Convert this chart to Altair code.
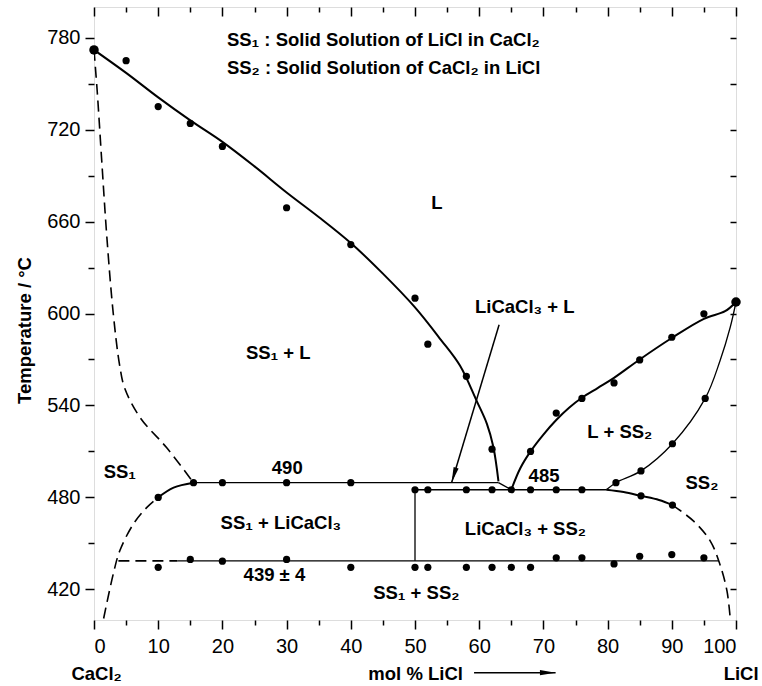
import math
import altair as alt
import pandas as pd

X_DOMAIN = [0, 100]
Y_DOMAIN = [400, 800]
PLOT_W, PLOT_H = 642, 613
FONT = "Liberation Sans"

x_major = list(range(0, 101, 10))
x_minor = list(range(5, 100, 10))
y_major = [420, 480, 540, 600, 660, 720, 780]
y_minor = [450, 510, 570, 630, 690, 750]

# ---- phase boundary curves (mol % LiCl, temperature) ----
liquidus_left = [(0, 772), (5, 757), (10, 741), (15, 726), (20, 712), (25, 696), (30, 679),
                 (35, 663), (40, 646), (45, 626), (50, 604), (54, 583), (57, 566),
                 (59.6, 543), (61.2, 528), (62.2, 513), (63, 490.5)]
liquidus_right = [(65, 485), (66.4, 499), (68, 510), (70, 521), (72, 530.5), (74, 538.5),
                  (76, 545), (78.5, 551.5), (81, 558), (85, 570), (90, 584), (95, 596.5),
                  (98.3, 601.5), (100, 607.5)]
solvus_left_solid = [(10, 480), (12.4, 486.4), (15.5, 489.6)]
solvus_right_solid = [(79.8, 485), (82.5, 483.5), (85.2, 481), (88, 478.3), (90.1, 475)]
peritectic = [(63, 489.6), (65, 485)]
solidus_right = [(79.8, 485), (81.3, 489.6), (85.2, 497.3), (90.1, 515), (95.2, 544.6),
                 (97.5, 569), (99.1, 591), (100, 607.5)]
iso_490 = [(15.5, 489.6), (63, 489.6)]
iso_485 = [(50, 485), (79.8, 485)]
iso_439 = [(13, 438.6), (97.3, 438.6)]
tie_50 = [(50, 485), (50, 438.6)]
solidus_left_dashed = [(0, 772), (0.5, 745), (1.2, 700), (2, 650), (3, 600), (4, 566),
                       (4.8, 551), (7.2, 532), (11.3, 512.5), (15.5, 489.6)]
solvus_left_dashed = [(1.5, 401), (3, 430), (4, 445), (6.1, 462.4), (8.2, 473.3), (10, 480)]
solvus_right_dashed = [(90.1, 475), (93.4, 464.5), (96, 451.5), (97.5, 436.2),
                       (98.6, 418.8), (99.1, 401)]
iso_439_dashed = [(3.8, 438.6), (13, 438.6)]

# ---- measured points ----
pts_liquidus_left = [(5, 765), (10, 735), (15, 724), (20, 709), (30, 669), (40, 645),
                     (50, 610), (52, 580), (58, 559), (62, 511.5)]
pts_liquidus_right = [(68, 510), (72, 535), (76, 544.6), (81, 554.7), (85, 569.7),
                      (90, 584.5), (95, 599.8)]
pts_solidus = [(81.3, 489.6), (85.2, 497.3), (90.1, 515), (95.2, 544.6)]
pts_solvus = [(85.2, 481), (90.1, 475)]
pts_490 = [(10, 480), (15.5, 489.6), (20, 489.6), (30, 489.6), (40, 489.6)]
pts_485 = [(50, 485), (52, 485), (58, 485), (62, 485), (65, 485), (68, 485), (72, 485), (76, 485)]
pts_439 = [(10, 434.4), (15, 439.5), (20, 438.4), (30, 439.5), (40, 434.4), (50, 434.4),
           (52, 434.4), (58, 434.4), (62, 434.4), (65, 434.4), (68, 434.4), (72, 440.6),
           (76, 440.6), (81, 436.6), (85, 441.6), (90, 442.7), (95, 440.6)]
pts_melting = [(0, 772), (100, 607.5)]

# ---- labels ----
region_labels = [
    ("L", 53.4, 672, "center"),
    ("LiCaCl₃ + L", 67.1, 604, "center"),
    ("SS₁ + L", 28.7, 574, "center"),
    ("L + SS₂", 81.9, 523, "center"),
    ("SS₁", 1.5, 496.5, "left"),
    ("490", 30.1, 499.5, "center"),
    ("485", 70.1, 494, "center"),
    ("SS₂", 94.7, 489.6, "center"),
    ("SS₁ + LiCaCl₃", 29.1, 463.4, "center"),
    ("LiCaCl₃ + SS₂", 67.2, 459.1, "center"),
    ("439 ± 4", 28.1, 429.2, "center"),
    ("SS₁ + SS₂", 50.2, 417.6, "center"),
]
header_labels = [
    ("SS₁ : Solid Solution of LiCl in CaCl₂", 20.7, 778.5),
    ("SS₂ : Solid Solution of CaCl₂ in LiCl", 20.7, 760.2),
]
bottom_labels = [("CaCl₂", 0.4, 360.9), ("mol % LiCl", 50.1, 360.9), ("LiCl", 100.8, 360.9)]
arrow_lines = [((63.1, 592.7), (55.7, 489.6)), ((59.2, 365.6), (71.9, 365.6))]

xs = alt.Scale(domain=X_DOMAIN, nice=False, zero=False)
ys = alt.Scale(domain=Y_DOMAIN, nice=False, zero=False)


def curves_df(curves):
    rows = []
    for name, pts in curves:
        for i, (x, y) in enumerate(pts):
            rows.append({"curve": name, "i": i, "x": x, "y": y})
    return pd.DataFrame(rows)


def pts_df(pts):
    return pd.DataFrame({"x": [p[0] for p in pts], "y": [p[1] for p in pts]})


def line_layer(curves, width, dash=None, interp="catmull-rom"):
    kw = dict(color="black", strokeWidth=width, interpolate=interp, clip=True)
    if dash:
        kw["strokeDash"] = dash
    return alt.Chart(curves_df(curves)).mark_line(**kw).encode(
        x=alt.X("x:Q", scale=xs, axis=None),
        y=alt.Y("y:Q", scale=ys, axis=None),
        detail="curve:N",
        order="i:Q",
    )


thick = line_layer([("ll", liquidus_left), ("lr", liquidus_right),
                    ("sls", solvus_left_solid), ("srs", solvus_right_solid)], 2.0)
thin = line_layer([("per", peritectic), ("sol", solidus_right), ("i490", iso_490),
                   ("i485", iso_485), ("i439", iso_439), ("t50", tie_50)], 1.3)
dashed = line_layer([("sld", solidus_left_dashed), ("svl", solvus_left_dashed),
                     ("svr", solvus_right_dashed), ("i439d", iso_439_dashed)], 1.6, dash=[11, 6])

all_pts = (pts_liquidus_left + pts_liquidus_right + pts_solidus + pts_solvus +
           pts_490 + pts_485 + pts_439)
points = alt.Chart(pts_df(all_pts)).mark_circle(color="black", opacity=1, size=52).encode(
    x=alt.X("x:Q", scale=xs, axis=None), y=alt.Y("y:Q", scale=ys, axis=None))
points_big = alt.Chart(pts_df(pts_melting)).mark_circle(color="black", opacity=1, size=90).encode(
    x=alt.X("x:Q", scale=xs, axis=None), y=alt.Y("y:Q", scale=ys, axis=None))

lab_df = pd.DataFrame(region_labels, columns=["text", "x", "y", "anchor"])
labels_c = alt.Chart(lab_df[lab_df["anchor"] == "center"]).mark_text(
    font=FONT, fontSize=18.5, fontWeight="bold", color="black", align="center", baseline="middle"
).encode(x=alt.X("x:Q", scale=xs, axis=None), y=alt.Y("y:Q", scale=ys, axis=None), text="text:N")
labels_l = alt.Chart(lab_df[lab_df["anchor"] == "left"]).mark_text(
    font=FONT, fontSize=18.5, fontWeight="bold", color="black", align="left", baseline="middle"
).encode(x=alt.X("x:Q", scale=xs, axis=None), y=alt.Y("y:Q", scale=ys, axis=None), text="text:N")
header = alt.Chart(pd.DataFrame(header_labels, columns=["text", "x", "y"])).mark_text(
    font=FONT, fontSize=18.5, fontWeight="bold", color="black", align="left", baseline="middle"
).encode(x=alt.X("x:Q", scale=xs, axis=None), y=alt.Y("y:Q", scale=ys, axis=None), text="text:N")
bottom = alt.Chart(pd.DataFrame(bottom_labels, columns=["text", "x", "y"])).mark_text(
    font=FONT, fontSize=18.5, fontWeight="bold", color="black", align="center",
    baseline="alphabetic"
).encode(x=alt.X("x:Q", scale=xs, axis=None), y=alt.Y("y:Q", scale=ys, axis=None), text="text:N")

# arrows
arr_rows, head_rows = [], []
for (x1, y1), (x2, y2) in arrow_lines:
    arr_rows.append({"x": x1, "y": y1, "x2": x2, "y2": y2})
    dx = (x2 - x1) * PLOT_W / (X_DOMAIN[1] - X_DOMAIN[0])
    dy = -(y2 - y1) * PLOT_H / (Y_DOMAIN[1] - Y_DOMAIN[0])
    ang = math.degrees(math.atan2(dx, -dy)) % 360
    head_rows.append({"x": x2, "y": y2, "angle": ang})
arrow_rules = alt.Chart(pd.DataFrame(arr_rows)).mark_rule(color="black", strokeWidth=1.5).encode(
    x=alt.X("x:Q", scale=xs, axis=None), y=alt.Y("y:Q", scale=ys, axis=None),
    x2="x2:Q", y2="y2:Q")
arrow_heads = alt.Chart(pd.DataFrame(head_rows)).mark_point(
    shape="M0,0 L0.4,2.4 L-0.4,2.4 Z", filled=True, color="black", opacity=1, size=170
).encode(x=alt.X("x:Q", scale=xs, axis=None), y=alt.Y("y:Q", scale=ys, axis=None),
         angle=alt.Angle("angle:Q", scale=None))

# axes (major/minor ticks, inward on top/right)
dummy = pd.DataFrame({"x": [0], "y": [400]})
common = dict(grid=False, domain=False, tickColor="black", tickWidth=1.5, title=None)


def axis_layer(xaxis, yaxis):
    return alt.Chart(dummy).mark_point(opacity=0).encode(
        x=alt.X("x:Q", scale=xs, axis=xaxis), y=alt.Y("y:Q", scale=ys, axis=yaxis))


ax_layers = [
    axis_layer(alt.Axis(orient="bottom", values=x_major, tickSize=9, labelPadding=7,
                        labelFont=FONT, labelFontSize=20, labelColor="black", **common),
               alt.Axis(orient="left", values=y_major, tickSize=9, labelPadding=5,
                        labelFont=FONT, labelFontSize=20, labelColor="black",
                        grid=False, domain=False, tickColor="black", tickWidth=1.5,
                        title="Temperature / °C", titleFont=FONT, titleFontSize=18.5,
                        titleFontWeight="bold", titleColor="black", titlePadding=12,
                        titleY=323)),
    axis_layer(alt.Axis(orient="bottom", values=x_minor, tickSize=5, labels=False, **common),
               alt.Axis(orient="left", values=y_minor, tickSize=6, labels=False, **common)),
    axis_layer(alt.Axis(orient="top", values=x_major, tickSize=9, offset=-9, labels=False, **common),
               alt.Axis(orient="right", values=y_major, tickSize=6, offset=-6, labels=False, **common)),
    axis_layer(alt.Axis(orient="top", values=x_minor, tickSize=5, offset=-5, labels=False, **common),
               alt.Axis(orient="right", values=y_minor, tickSize=6, offset=-6, labels=False, **common)),
]

chart = alt.layer(
    *ax_layers, dashed, thin, thick, arrow_rules, arrow_heads, points, points_big,
    labels_c, labels_l, header, bottom
).resolve_axis(x="independent", y="independent").properties(
    width=PLOT_W, height=PLOT_H,
    autosize=alt.AutoSizeParams(type="none"),
    padding={"left": 94, "top": 7, "right": 26, "bottom": 66},
).configure_view(stroke="black", strokeWidth=2).configure(background="white")

chart.save("out.html", embed_options={"renderer": "svg", "actions": False})
